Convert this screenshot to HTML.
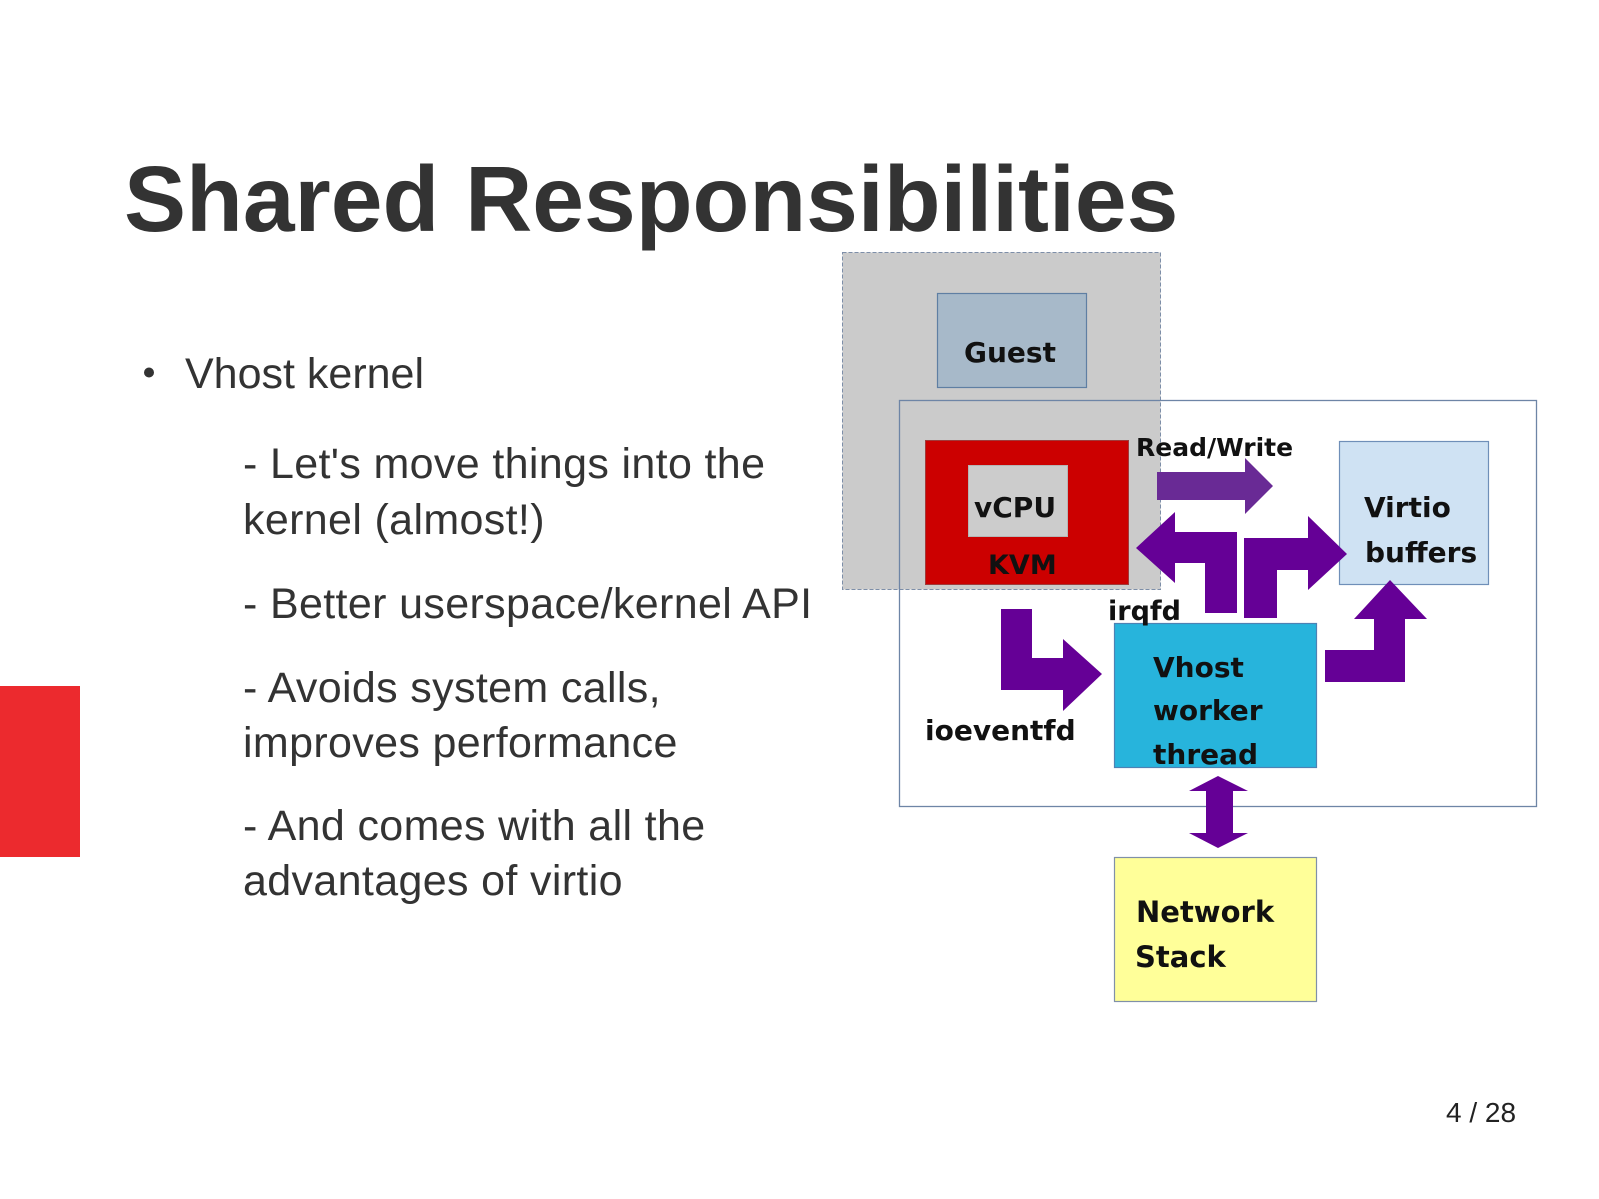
<!DOCTYPE html>
<html>
<head>
<meta charset="utf-8">
<style>
  html, body { margin: 0; padding: 0; background: #ffffff; }
  svg { display: block; }
</style>
</head>
<body>
<svg width="1599" height="1199" viewBox="0 0 1599 1199" xmlns="http://www.w3.org/2000/svg">
  <rect x="0" y="0" width="1599" height="1199" fill="#ffffff"/>

  <!-- Title -->
  <text x="124" y="231" font-family="Liberation Sans, Arial, sans-serif" font-weight="bold" font-size="93" fill="#333333">Shared Responsibilities</text>

  <!-- Bullet -->
  <circle cx="149" cy="372.5" r="5" fill="#333333"/>
  <text x="185" y="388" font-family="Liberation Sans, Arial, sans-serif" font-size="43" fill="#333333">Vhost kernel</text>

  <!-- Sub bullets -->
  <g font-family="Liberation Sans, Arial, sans-serif" font-size="43" fill="#333333" letter-spacing="0.35">
    <text x="243" y="478">- Let's move things into the</text>
    <text x="243" y="534">kernel (almost!)</text>
    <text x="243" y="618">- Better userspace/kernel API</text>
    <text x="243" y="702">- Avoids system calls,</text>
    <text x="243" y="757">improves performance</text>
    <text x="243" y="840">- And comes with all the</text>
    <text x="243" y="895">advantages of virtio</text>
  </g>

  <!-- Red side bar -->
  <rect x="0" y="686" width="80" height="171" fill="#ec2a2e"/>

  <!-- Page number -->
  <text x="1446" y="1122" font-family="Liberation Sans, Arial, sans-serif" font-size="28" fill="#222222">4 / 28</text>

  <!-- ===== Diagram ===== -->
  <rect x="842.5" y="252.5" width="318" height="337" fill="#cbcbcb" stroke="#7d8ea8" stroke-width="1" stroke-dasharray="4 2"/>
  <rect x="899.5" y="400.5" width="637" height="406" fill="none" stroke="#6e85a6" stroke-width="1.3"/>

  <!-- Guest -->
  <rect x="937.5" y="293.5" width="149" height="94" fill="#a7b9c9" stroke="#5f7fa3" stroke-width="1.2"/>
  <text x="964" y="362" font-family="DejaVu Sans, sans-serif" font-weight="bold" font-size="28" fill="#111111">Guest</text>

  <!-- KVM -->
  <rect x="925.5" y="440.5" width="203" height="144" fill="#cc0000" stroke="#a03a3a" stroke-width="1"/>
  <rect x="968.5" y="465.5" width="99" height="71" fill="#cccccc" stroke="#b5b5b5" stroke-width="1"/>
  <text x="974" y="517" font-family="DejaVu Sans, sans-serif" font-weight="bold" font-size="28" fill="#111111">vCPU</text>
  <text x="988" y="574" font-family="DejaVu Sans, sans-serif" font-weight="bold" font-size="27" fill="#111111">KVM</text>

  <!-- Virtio buffers -->
  <rect x="1339.5" y="441.5" width="149" height="143" fill="#cfe2f3" stroke="#6f8fb8" stroke-width="1.2"/>
  <text x="1364" y="517" font-family="DejaVu Sans, sans-serif" font-weight="bold" font-size="28" fill="#111111">Virtio</text>
  <text x="1365" y="562" font-family="DejaVu Sans, sans-serif" font-weight="bold" font-size="28" fill="#111111">buffers</text>

  <!-- Vhost worker thread -->
  <rect x="1114.5" y="623.5" width="202" height="144" fill="#27b4dc" stroke="#4d82b4" stroke-width="1.2"/>
  <g font-family="DejaVu Sans, sans-serif" font-weight="bold" font-size="28" fill="#111111">
    <text x="1153" y="677">Vhost</text>
    <text x="1153" y="720">worker</text>
    <text x="1153" y="764">thread</text>
  </g>

  <!-- Network Stack -->
  <rect x="1114.5" y="857.5" width="202" height="144" fill="#ffff99" stroke="#8090a8" stroke-width="1.2"/>
  <text x="1136" y="922" font-family="DejaVu Sans, sans-serif" font-weight="bold" font-size="29" fill="#111111">Network</text>
  <text x="1135" y="967" font-family="DejaVu Sans, sans-serif" font-weight="bold" font-size="29" fill="#111111">Stack</text>

  <!-- Arrows -->
  <polygon points="1157,472 1245,472 1245,458 1273,486 1245,514 1245,500 1157,500" fill="#692a95"/>
  <polygon points="1237,613 1237,532 1175,532 1175,512 1136,548 1175,583 1175,563 1205,563 1205,613" fill="#650096"/>
  <polygon points="1244,618 1244,538 1308,538 1308,516 1347,554 1308,590 1308,570 1277,570 1277,618" fill="#650096"/>
  <polygon points="1325,650 1374,650 1374,619 1354,619 1390,580 1427,619 1405,619 1405,682 1325,682" fill="#650096"/>
  <polygon points="1001,609 1032,609 1032,658 1063,658 1063,639 1102,674 1063,711 1063,690 1001,690" fill="#650096"/>
  <polygon points="1218,776 1248,791 1233,791 1233,833 1248,833 1218,848 1189,833 1206,833 1206,791 1189,791" fill="#650096"/>

  <!-- Labels -->
  <text x="1136" y="456" font-family="DejaVu Sans, sans-serif" font-weight="bold" font-size="25" fill="#111111">Read/Write</text>
  <text x="1108" y="620" font-family="DejaVu Sans, sans-serif" font-weight="bold" font-size="27" fill="#111111">irqfd</text>
  <text x="925" y="740" font-family="DejaVu Sans, sans-serif" font-weight="bold" font-size="28" fill="#111111">ioeventfd</text>
</svg>
</body>
</html>
